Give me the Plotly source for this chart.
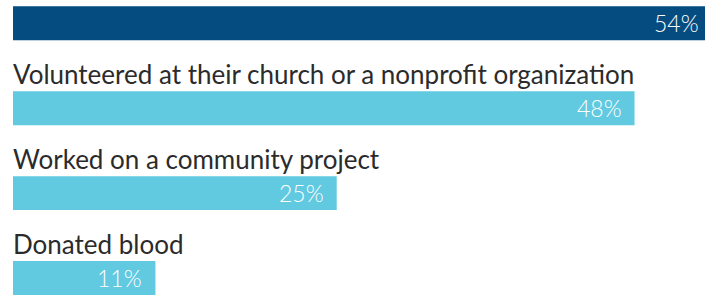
import plotly.graph_objects as go

categories = ["(top item)", "Volunteered at their church or a nonprofit organization",
              "Worked on a community project", "Donated blood"]
shown_labels = ["", "Volunteered at their church or a nonprofit organization",
                "Worked on a community project", "Donated blood"]
values = [54, 48, 25, 11]
value_labels = ["54%", "48%", "25%", "11%"]
colors = ["#054C80", "#61C9E0", "#61C9E0", "#61C9E0"]

fig = go.Figure()
fig.add_trace(go.Bar(
    x=values, y=categories, orientation="h",
    marker=dict(color=colors, line=dict(width=0)),
    width=0.4, hoverinfo="skip",
))

for i, (cat, lbl, v, lab) in enumerate(zip(categories, shown_labels, values, value_labels)):
    if lbl:
        fig.add_annotation(x=0, y=cat, xref="x", yref="y", text=lbl,
                           showarrow=False, xanchor="left", yanchor="middle",
                           yshift=34, xshift=-2,
                           font=dict(family="Lato", size=26, color="#2B2B2B"))
    fig.add_annotation(x=v, y=cat, xref="x", yref="y", text=lab,
                       showarrow=False, xanchor="right", yanchor="middle",
                       xshift=-11, yshift=0,
                       font=dict(family="Lato", size=23, color="#FFFFFF", weight=300))

fig.update_layout(
    width=720, height=295,
    margin=dict(l=13, r=0, t=0, b=0),
    paper_bgcolor="white", plot_bgcolor="white",
    showlegend=False,
    xaxis=dict(range=[0, 54.6], visible=False, fixedrange=True),
    yaxis=dict(range=[3.199, -0.273], visible=False, type="category",
               categoryorder="array", categoryarray=categories, fixedrange=True),
)

fig.write_html("out.html", config={"displayModeBar": False},
               post_script="document.body.style.margin='0';document.body.style.overflow='hidden';")
